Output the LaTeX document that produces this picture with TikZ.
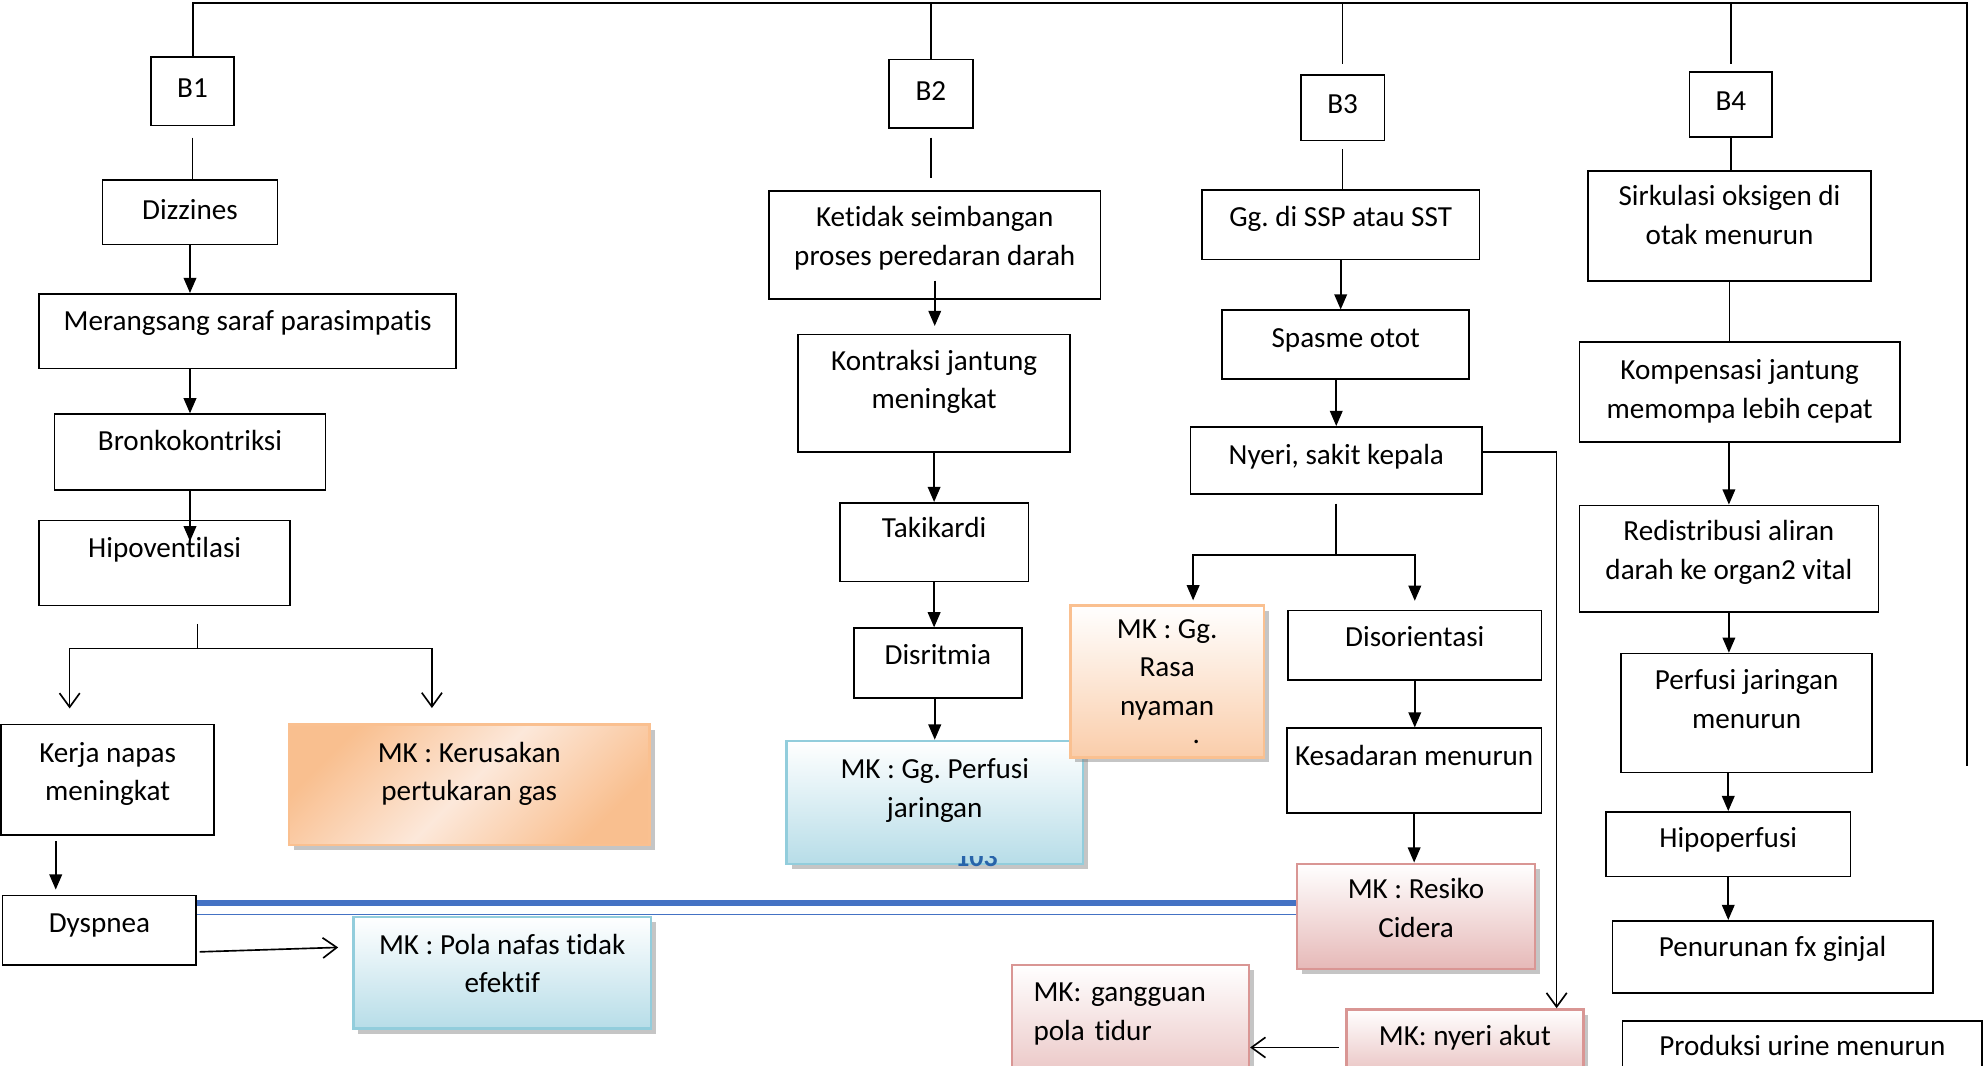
\documentclass[tikz,border=0pt]{standalone}
\usepackage{fontspec}
\setmainfont{Carlito}[Ligatures={NoCommon,NoContextual},Contextuals={NoAlternate}]
\usetikzlibrary{arrows.meta,shadows,calc}

\definecolor{orangedeep}{RGB}{249,191,143}
\definecolor{orangepale}{RGB}{252,232,218}
\definecolor{orangeline}{RGB}{250,192,144}
\definecolor{peach}{RGB}{250,205,170}
\definecolor{bluepale}{RGB}{183,221,232}
\definecolor{blueline}{RGB}{146,205,220}
\definecolor{pinkpale}{RGB}{230,185,184}
\definecolor{pinkline}{RGB}{217,150,148}
\definecolor{ruleblue}{RGB}{68,114,196}
\definecolor{pageblue}{RGB}{40,100,170}

\begin{document}
\frenchspacing
\begin{tikzpicture}
  [x=1pt,y=-1pt,
   every node/.style={font=\fontsize{23pt}{30.5pt}\selectfont,align=center,inner sep=0pt},
   size/.style 2 args={minimum width=#1pt,minimum height=#2pt},
   up/.style={text depth=#1pt},
   box/.style={draw,line width=1.3pt,text depth=5pt},
   mk/.style={line width=2pt,text depth=5pt,
     drop shadow={shadow xshift=4pt,shadow yshift=-4pt,fill=black!50,opacity=.45}},
   mkorange/.style={mk,draw=orangeline,left color=orangedeep,right color=orangedeep,
     middle color=orangepale,shading angle=45},
   mkpeach/.style={mk,draw=orangeline,top color=white,bottom color=peach},
   mkblue/.style={mk,draw=blueline,top color=white,bottom color=bluepale},
   mkpink/.style={mk,draw=pinkline,top color=white,bottom color=pinkpale},
   line/.style={line width=1.3pt},
   arr/.style={-{Triangle[length=12pt,width=10pt]},line width=1.3pt},
   barb/.style={-{Straight Barb[length=11pt,width=16pt]},line width=1.3pt}]

  \path [fill=white,use as bounding box] (0,0) rectangle (1568,841);

  % B1
  \node [box, size={66}{54}] (b1) at (152,72) {B1};
  \node [box, size={138}{51}] (dizz) at (150,167.5) {Dizzines};
  \node [box, size={329}{59}, up=17] (parasim) at (195.5,261.5) {Merangsang saraf parasimpatis};
  \node [box, size={214}{60}, up=19] (bronko) at (150,357) {Bronkokontriksi};
  \node [box, size={198}{67}, up=25] (hipovent) at (130,444.5) {Hipoventilasi};
  \node [box, size={168}{87}, up=13] (kerja) at (85,615.5) {Kerja napas\\meningkat};
  \node [mkorange, size={285}{95}, up=21] (rusak) at (370.5,619.5) {MK : Kerusakan\\pertukaran gas};
  \node [box, size={153}{55}, up=12] (dysp) at (78.5,734.5) {Dyspnea};
  \node [mkblue, size={235}{88}, up=15] (pola) at (396.5,768) {MK : Pola nafas tidak\\efektif};

  % B2
  \node [box, size={66}{54}] (b2) at (735,74) {B2};
  \node [box, size={262}{85}, up=15] (imbang) at (738,193.5) {Ketidak seimbangan\\proses peredaran darah};
  \node [box, size={215}{93}, up=22] (kontraksi) at (737.5,310.5) {Kontraksi jantung\\meningkat};
  \node [box, size={149}{62}, up=23] (taki) at (737.5,428) {Takikardi};
  \node [box, size={133}{55}, up=14] (disrit) at (740.5,523.5) {Disritmia};
  \node [mkblue, size={234}{97}, up=23] (perfusi) at (738,633.5) {MK : Gg. Perfusi\\jaringan};
  \begin{scope}
    \clip (700,676) rectangle (850,690);
    \node [text=pageblue, font=\fontsize{22pt}{26pt}\selectfont\bfseries] (pagenum) at (771,677) {103};
  \end{scope}

  % B3
  \node [box, size={66}{52}] (b3) at (1060,85) {B3};
  \node [box, size={219}{55}, up=14] (ssp) at (1058.5,177.5) {Gg. di SSP atau SST};
  \node [box, size={195}{54}, up=11] (spasme) at (1062.5,272) {Spasme otot};
  \node [box, size={230}{53}, up=10] (nyeri) at (1055,363.5) {Nyeri, sakit kepala};
  \node [mkpeach, size={153}{120}, up=0] (nyaman) at (921.5,538) {MK : Gg.\\Rasa\\nyaman\\[-8pt]\hspace*{46pt}.};
  \node [box, size={200}{55}, up=14] (disor) at (1117,509.5) {Disorientasi};
  \node [box, size={201}{67}, up=25] (sadar) at (1116.5,608.5) {Kesadaran menurun};
  \node [mkpink, size={188}{83}, up=13] (cidera) at (1118,723.5) {MK : Resiko\\Cidera};
  \node [mkpink, size={187}{60}, up=19] (akut) at (1156.5,827) {MK: nyeri akut};
  \node [mkpink, size={187}{108}, up=65, align=left, text width=153pt] (tidur) at (892.5,816) {MK: gangguan\\pola tidur};

  % B4
  \node [box, size={65}{51}] (b4) at (1366.5,82.5) {B4};
  \node [box, size={223}{87}, up=18] (sirkul) at (1365.5,178.5) {Sirkulasi oksigen di\\otak menurun};
  \node [box, size={253}{79}] (kompen) at (1373.5,309.5) {Kompensasi jantung\\memompa lebih cepat};
  \node [box, size={236}{84}, up=14] (redis) at (1365,441) {Redistribusi aliran\\darah ke organ2 vital};
  \node [box, size={198}{94}, up=22] (perfmenurun) at (1379,563) {Perfusi jaringan\\menurun};
  \node [box, size={193}{51}, up=10] (hipoperf) at (1364.5,666.5) {Hipoperfusi};
  \node [box, size={253}{57}, up=16] (ginjal) at (1399.5,755.5) {Penurunan fx ginjal};
  \node [box, size={284}{64}, up=25] (urine) at (1423,838) {Produksi urine menurun};

  % frame over the four columns
  \coordinate (topright) at (1553,2);
  \coordinate (rightend) at (1553,605);
  \draw [line width=1.6pt] (b1.north) -- (b1.north |- topright) -- (topright) -- (rightend);
  \draw [line] (b2.north) -- (b2.north |- topright);
  \draw [line] ([yshift=8pt]b3.north) -- (b3.north |- topright);
  \draw [line] ([yshift=6pt]b4.north) -- (b4.north |- topright);

  \draw [line] ([yshift=-9pt]b1.south) -- (b1.south |- dizz.north);
  \draw [line] ([yshift=-7pt]b2.south) -- ($(b2.south |- imbang.north)+(0,-10)$);
  \draw [line] ([yshift=-6pt]b3.south) -- (b3.south |- ssp.north);
  \draw [line] (b4.south) -- (b4.south |- sirkul.north);
  \draw [line] (sirkul.south) -- (sirkul.south |- kompen.north);

  \foreach \from/\to in {dizz/parasim,kontraksi/taki,taki/disrit,ssp/spasme,disor/sadar,sadar/cidera,redis/perfmenurun,hipoperf/ginjal}
    \draw [arr] (\from.south) -- (\from.south |- \to.north);
  \foreach \from/\to in {parasim/bronko,disrit/perfusi,spasme/nyeri,kompen/redis,perfmenurun/hipoperf}
    \draw [arr] (\to.north |- \from.south) -- (\to.north);
  \draw [arr] (bronko.south) -- ($(bronko.south |- hipovent.north)+(0,17)$);
  \draw [arr] ($(imbang.south)+(0,-15)$) -- ($(imbang.south |- kontraksi.north)+(0,-6)$);

  % B1 split
  \coordinate (hsplit) at (156,512);
  \coordinate (hsplitL) at (55,512);
  \coordinate (hsplitR) at (341,512);
  \draw [line] ($(hipovent.south -| hsplit)+(0,14)$) -- (hsplit);
  \draw [barb] (hsplit) -- (hsplitL) -- ($(hsplitL |- kerja.north)+(0,-12)$);
  \draw [barb] (hsplit) -- (hsplitR) -- ($(hsplitR |- rusak.north)+(0,-12)$);
  \coordinate (kerjax) at (44,664);
  \draw [arr] (kerjax) -- ($(kerjax |- dysp.north)+(0,-4)$);
  \draw [barb] ($(dysp.east)+(2,17)$) -- ($(pola.west)+(-11,-20)$);

  % B3 split
  \coordinate (splitL) at (942,438);
  \draw [line] ($(nyeri.south)+(0,7)$) -- (nyeri.south |- splitL);
  \draw [arr] (nyeri.south |- splitL) -- (splitL) -- ($(splitL |- nyaman.north)+(0,-3)$);
  \draw [arr] (nyeri.south |- splitL) -| ($(disor.north)+(0,-7)$);
  \coordinate (akutcol) at (1229,357);
  \draw [barb] ($(nyeri.east)+(0,-6.5)$) -- (akutcol) -- (akutcol |- akut.north);
  \draw [barb] ($(akut.west)+(-5,0)$) -- (akut.west -| tidur.east);

  % blue rule
  \coordinate (ruley) at (0,713);
  \coordinate (ruley2) at (0,722);
  \draw [ruleblue, line width=5pt] (dysp.east |- ruley) -- (cidera.west |- ruley);
  \draw [ruleblue, line width=1pt] (dysp.east |- ruley2) -- (cidera.west |- ruley2);

\end{tikzpicture}
\end{document}
